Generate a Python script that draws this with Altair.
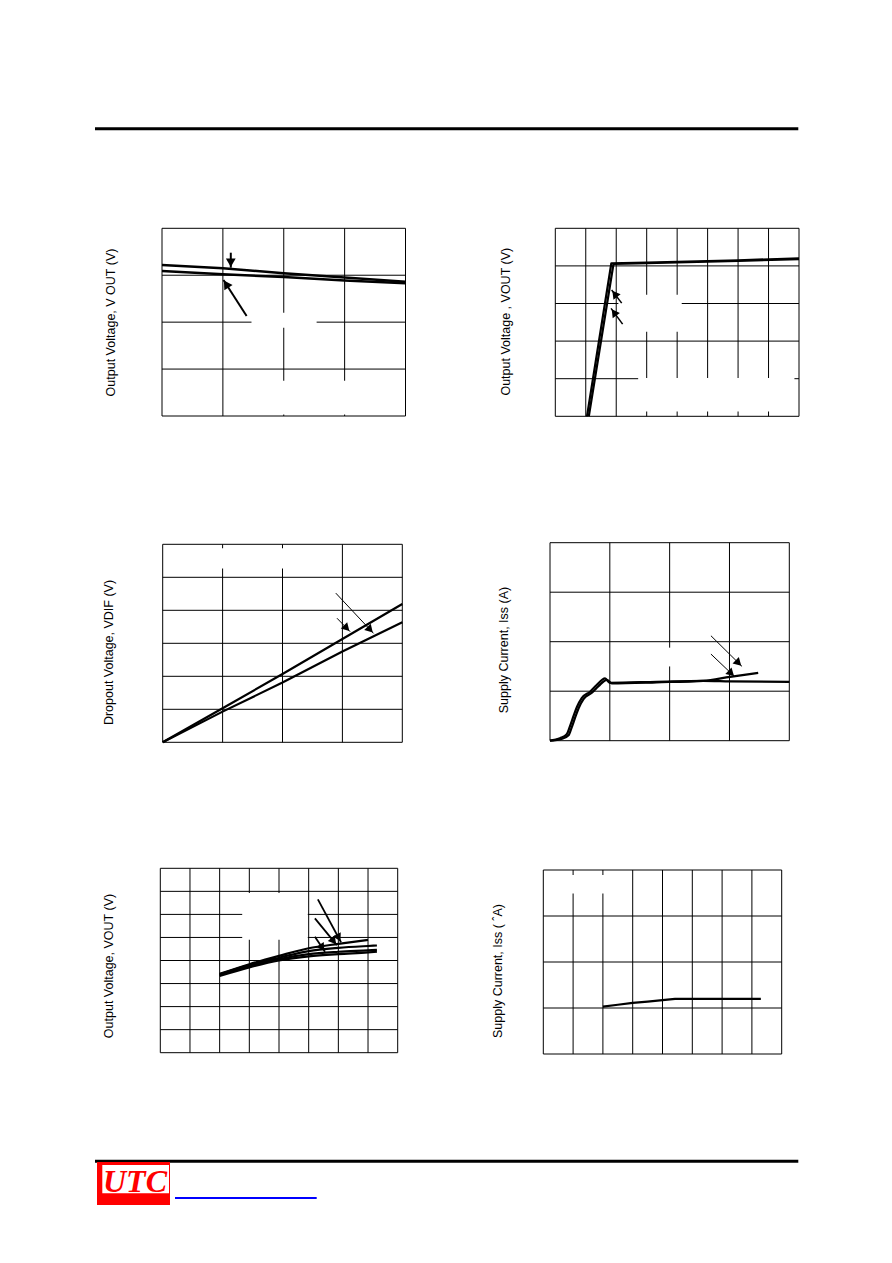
import math
import altair as alt
import pandas as pd

# ---------------- data (grid units; tick labels are blank in the source) ----------------
# Panel 1: Output voltage (two traces)
p1_x = [0, 1, 2, 3, 4]
p1_upper = [3.22, 3.15, 3.04, 2.95, 2.86]
p1_lower = [3.09, 3.02, 2.96, 2.89, 2.83]
p1_arrows = [((1.13, 3.48), (1.13, 3.16)), ((1.39, 2.13), (1.01, 2.90))]
p1_blank = [(1.47, 2.54, 1.88, 2.20), (1.20, 3.97, 0.03, 0.75)]

# Panel 2: Output voltage vs input
p2_xa = [1.04, 1.84, 3, 4, 6, 8]
p2_ya = [0, 4.07, 4.09, 4.11, 4.15, 4.20]
p2_xb = [1.10, 1.91, 3, 4, 6, 8]
p2_yb = [0, 4.05, 4.07, 4.09, 4.13, 4.18]
p2_arrows = [((2.18, 3.01), (1.85, 3.36)), ((2.21, 2.45), (1.83, 2.87))]
p2_blank = [(2.07, 4.15, 2.25, 3.23), (2.72, 7.85, 0.13, 1.02)]

# Panel 3: Dropout voltage
p3_x = [0, 1, 2, 3, 4]
p3_upper = [0, 1.03, 2.07, 3.13, 4.19]
p3_lower = [0, 0.93, 1.81, 2.75, 3.64]
p3_arrows = [((2.89, 4.52), (3.52, 3.30)), ((2.91, 3.76), (3.13, 3.35))]
p3_blank = [(0.10, 2.45, 5.27, 5.88)]

# Panel 4: Supply current
p4_xa = [0, 0.167, 0.28, 0.33, 0.40, 0.45, 0.53, 0.67, 0.78, 0.92, 1.0, 1.78, 2.56, 3.01, 4.0]
p4_ya = [0, 0.05, 0.13, 0.28, 0.52, 0.68, 0.86, 0.99, 1.125, 1.26, 1.17, 1.19, 1.21, 1.20, 1.19]
p4_xb = [0, 0.2, 0.31, 0.36, 0.43, 0.48, 0.56, 0.70, 0.81, 0.95, 1.03, 1.78, 2.56, 3.01, 3.48]
p4_yb = [0, 0.04, 0.11, 0.26, 0.50, 0.66, 0.84, 0.97, 1.10, 1.23, 1.16, 1.18, 1.21, 1.29, 1.37]
p4_arrows = [((2.69, 2.12), (3.21, 1.50)), ((2.69, 1.75), (3.09, 1.29))]
p4_blank = [(1.80, 2.20, 1.50, 1.88)]

# Panel 5: Output voltage (four traces)
p5_x_short = [2, 3, 4, 5, 6, 7]
p5_x_long = [2, 3, 4, 5, 6, 7, 7.3]
p5_l1 = [3.42, 3.84, 4.20, 4.53, 4.72, 4.89]
p5_l2 = [3.40, 3.80, 4.12, 4.41, 4.55, 4.63, 4.65]
p5_l3 = [3.37, 3.75, 4.06, 4.28, 4.38, 4.44, 4.46]
p5_l4 = [3.33, 3.70, 4.00, 4.18, 4.28, 4.35, 4.38]
p5_arrows = [((5.31, 6.65), (6.09, 4.79)), ((5.21, 5.83), (5.95, 4.67)), ((5.21, 5.03), (5.55, 4.38))]
p5_blank = [(2.76, 4.97, 4.90, 6.93)]

# Panel 6: Supply current
p6_x = [2.0, 2.5, 3.0, 3.5, 4.0, 4.42, 7.3]
p6_y = [1.03, 1.07, 1.11, 1.14, 1.17, 1.20, 1.20]
p6_blank = [(0.50, 2.90, 3.49, 3.89)]

titles = [
    "Output Voltage, V  OUT (V)",
    "Output Voltage , VOUT (V)",
    "Dropout Voltage, VDIF (V)",
    "Supply Current, Iss (A)",
    "Output Voltage, VOUT (V)",
    "Supply Current, Iss ( ˆA)",
]
logo_text = "UTC"

# ---------------- layout (pixels inside the 876x1247 chart) ----------------
W, H = 876, 1247


def panel(xdom, ydom, xr, yr, series, arrows, blanks, lw=2.5, aw=2.0, hs=55, interp="linear"):
    sx = alt.Scale(domain=xdom, range=xr, nice=False, zero=False)
    sy = alt.Scale(domain=ydom, range=yr, nice=False, zero=False)

    def X(f):
        return alt.X(f, type="quantitative", scale=sx, axis=None)

    def Y(f):
        return alt.Y(f, type="quantitative", scale=sy, axis=None)

    xgrid = list(range(xdom[0] + 1, xdom[1]))
    ygrid = list(range(ydom[0] + 1, ydom[1]))
    layers = []
    layers.append(
        alt.Chart(pd.DataFrame({"g": xgrid, "a": ydom[0], "b": ydom[1]}))
        .mark_rule(color="black", strokeWidth=1)
        .encode(x=X("g"), y=Y("a"), y2="b")
    )
    layers.append(
        alt.Chart(pd.DataFrame({"g": ygrid, "a": xdom[0], "b": xdom[1]}))
        .mark_rule(color="black", strokeWidth=1)
        .encode(y=Y("g"), x=X("a"), x2="b")
    )
    if blanks:
        bdf = pd.DataFrame(blanks, columns=["x0", "x1", "y0", "y1"])
        layers.append(
            alt.Chart(bdf)
            .mark_rect(color="white", strokeWidth=0)
            .encode(x=X("x0"), x2="x1", y=Y("y0"), y2="y1")
        )
    layers.append(
        alt.Chart(pd.DataFrame({"x0": [xdom[0]], "x1": [xdom[1]], "y0": [ydom[0]], "y1": [ydom[1]]}))
        .mark_rect(fillOpacity=0, stroke="black", strokeWidth=1)
        .encode(x=X("x0"), x2="x1", y=Y("y0"), y2="y1")
    )
    rows = []
    for si, (xs, ys) in enumerate(series):
        for i, (a, b) in enumerate(zip(xs, ys)):
            rows.append({"s": si, "i": i, "x": a, "y": b})
    layers.append(
        alt.Chart(pd.DataFrame(rows))
        .mark_line(color="black", strokeWidth=lw, strokeJoin="round", interpolate=interp)
        .encode(x=X("x"), y=Y("y"), detail="s:N", order="i:Q")
    )
    if arrows:
        kx = (xr[1] - xr[0]) / (xdom[1] - xdom[0])
        ky = (yr[0] - yr[1]) / (ydom[1] - ydom[0])
        arows = []
        for (tx, ty), (hx, hy) in arrows:
            dx = (hx - tx) * kx
            dy = -(hy - ty) * ky
            ang = math.degrees(math.atan2(dx, -dy)) % 360
            L = math.hypot(dx, dy)
            back = 5.0
            cx = hx - dx / L * back / kx
            cy = hy + dy / L * back / ky
            arows.append({"tx": tx, "ty": ty, "hx": hx, "hy": hy, "cx": cx, "cy": cy, "ang": ang})
        adf = pd.DataFrame(arows)
        layers.append(
            alt.Chart(adf)
            .mark_rule(color="black", strokeWidth=aw)
            .encode(x=X("tx"), y=Y("ty"), x2="hx", y2="hy")
        )
        layers.append(
            alt.Chart(adf)
            .mark_point(shape="triangle-up", filled=True, color="black", opacity=1, size=hs, strokeWidth=0)
            .encode(x=X("cx"), y=Y("cy"), angle=alt.Angle("ang:Q", scale=None))
        )
    return alt.layer(*layers)


panels = [
    panel([0, 4], [0, 4], [154, 397.5], [408, 220.3],
          [(p1_x, p1_upper), (p1_x, p1_lower)], p1_arrows, p1_blank, lw=2.5, aw=2, hs=95),
    panel([0, 8], [0, 5], [547.3, 791], [408.3, 220.3],
          [(p2_xa, p2_ya), (p2_xb, p2_yb)], p2_arrows, p2_blank, lw=2.2, aw=1.5, hs=80),
    panel([0, 4], [0, 6], [154.7, 394.3], [734.3, 536.3],
          [(p3_x, p3_upper), (p3_x, p3_lower)], p3_arrows, p3_blank, lw=2.2, aw=1, hs=80),
    panel([0, 4], [0, 4], [542, 781.3], [732.7, 534.7],
          [(p4_xa, p4_ya), (p4_xb, p4_yb)], p4_arrows, p4_blank, lw=2.2, aw=1, hs=80,
          interp="monotone"),
    panel([0, 8], [0, 8], [152.3, 389.7], [1044.7, 860.3],
          [(p5_x_short, p5_l1), (p5_x_long, p5_l2), (p5_x_long, p5_l3), (p5_x_long, p5_l4)],
          p5_arrows, p5_blank, lw=2.2, aw=1.8, hs=80, interp="monotone"),
    panel([0, 8], [0, 4], [535.3, 773.7], [1046, 862],
          [(p6_x, p6_y)], [], p6_blank, lw=2.2),
]

title_pos = [(102.8, 314.5), (497.8, 313.7), (101.3, 644.5), (495.7, 642), (101.2, 958), (489.5, 963)]

one = pd.DataFrame({"k": [0]})
deco = []
for t, (tx, ty) in zip(titles, title_pos):
    deco.append(
        alt.Chart(pd.DataFrame({"t": [t]}))
        .mark_text(angle=270, align="center", baseline="middle", font="Liberation Sans",
                   fontSize=12.5, color="black")
        .encode(text="t:N", x=alt.value(tx), y=alt.value(ty))
    )
# header and footer rules
deco.append(alt.Chart(one).mark_rule(color="black", strokeWidth=3)
            .encode(x=alt.value(87), x2=alt.value(790.3), y=alt.value(120.7)))
deco.append(alt.Chart(one).mark_rule(color="black", strokeWidth=3)
            .encode(x=alt.value(87), x2=alt.value(790.3), y=alt.value(1153.3)))
# logo
deco.append(alt.Chart(one).mark_rect(color="#FF0000")
            .encode(x=alt.value(89), x2=alt.value(162), y=alt.value(1154), y2=alt.value(1197)))
deco.append(alt.Chart(one).mark_rect(color="white")
            .encode(x=alt.value(94.3), x2=alt.value(161), y=alt.value(1157), y2=alt.value(1185.3)))
deco.append(
    alt.Chart(pd.DataFrame({"t": [logo_text]}))
    .mark_text(font="Liberation Serif", fontStyle="italic", fontWeight="bold", fontSize=32,
               color="#FF0000", align="center", baseline="alphabetic")
    .encode(text="t:N", x=alt.value(127), y=alt.value(1183.5))
)
deco.append(alt.Chart(one).mark_rule(color="#0000FF", strokeWidth=2)
            .encode(x=alt.value(167), x2=alt.value(308.7), y=alt.value(1190)))

chart = (
    alt.layer(*panels, *deco)
    .resolve_scale(x="independent", y="independent")
    .properties(width=W, height=H, autosize=alt.AutoSizeParams(type="none"), padding=0,
                background="white")
    .configure_view(stroke=None)
)

chart.save("out.html", embed_options={"renderer": "svg", "actions": False})
